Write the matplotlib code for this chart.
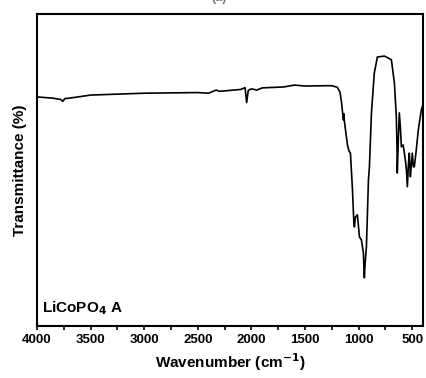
import numpy as np
import matplotlib
matplotlib.use('Agg')
import matplotlib.pyplot as plt
from matplotlib.ticker import MultipleLocator

plt.rcParams['font.family'] = ['Liberation Sans', 'DejaVu Sans']

# FTIR spectrum (wavenumber in cm-1, transmittance a.u.)
wavenumber = [4000, 3850, 3780, 3760, 3740, 3700, 3500, 3000, 2500, 2400,
              2330, 2300, 2200, 2100, 2060, 2045, 2030, 2000, 1950, 1900,
              1700, 1600, 1500, 1300, 1250, 1200, 1175, 1161, 1150, 1142,
              1138, 1133, 1105, 1090, 1077, 1058, 1045, 1040, 1030, 1012, 993,
              975, 956, 950, 947, 940, 928, 909, 900, 881, 863,
              854, 826, 760, 720, 695, 667, 649, 643, 640, 630,
              621, 610, 602, 585, 565, 555, 546, 536, 528, 518,
              508, 500, 490, 481, 463, 444, 416, 400]
transmittance = [73.4, 73.0, 72.6, 72.0, 72.9, 73.0, 74.0, 74.6, 74.8, 74.6,
                 75.6, 75.2, 75.5, 75.8, 76.4, 71.6, 75.5, 76.0, 75.6, 76.3,
                 76.6, 77.2, 76.9, 77.0, 77.0, 76.5, 75.0, 72.0, 68.3, 66.0,
                 68.0, 65.5, 58.0, 56.0, 55.4, 43.6, 33.0, 31.7, 34.9, 35.6, 28.5,
                 27.6, 23.4, 17.0, 15.4, 20.0, 25.3, 46.8, 51.0, 68.3, 77.0,
                 81.1, 86.2, 86.5, 85.8, 85.3, 77.9, 67.0, 58.0, 49.0, 60.0,
                 68.3, 63.0, 57.4, 58.0, 53.2, 50.0, 44.6, 52.0, 55.4, 47.8,
                 52.0, 55.4, 51.0, 51.0, 56.4, 62.8, 69.2, 71.0]

fig = plt.figure(figsize=(4.26, 3.78), dpi=100)
ax = fig.add_axes([0.087, 0.138, 0.906, 0.825])

ax.plot(wavenumber, transmittance, color='black', linewidth=1.2)

ax.set_xlim(4000, 400)
ax.set_ylim(0, 100)
ax.xaxis.set_major_locator(MultipleLocator(500))
ax.xaxis.set_minor_locator(MultipleLocator(250))
ax.tick_params(axis='x', which='both', direction='out', length=3, width=1.2,
               labelsize=9.5, pad=3)
ax.tick_params(axis='y', which='both', left=False, labelleft=False)
for lbl in ax.get_xticklabels():
    lbl.set_fontweight('bold')
for s in ax.spines.values():
    s.set_linewidth(1.5)

ax.set_xlabel('Wavenumber (cm$^{\\mathbf{-1}}$)', fontsize=11, fontweight='bold', labelpad=4)
ax.set_ylabel('Transmittance (%)', fontsize=11, fontweight='bold', labelpad=7)
ax.text(0.013, 0.045, 'LiCoPO$_\\mathbf{4}$ A', transform=ax.transAxes,
        fontsize=11, fontweight='bold')

fig.text(0.515, 1.005, '(a)', ha='center', va='center', fontsize=9,
         fontweight='bold', color='#777777')

fig.savefig('out.png', dpi=100)
